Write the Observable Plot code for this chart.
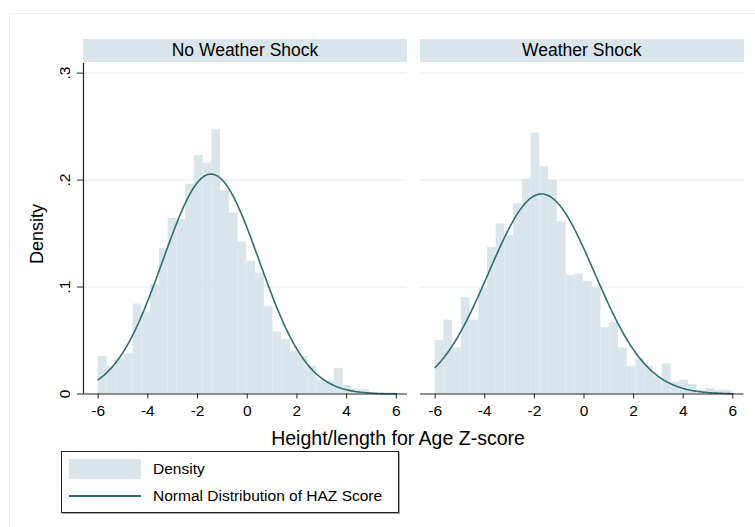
<!DOCTYPE html>
<html>
<head>
<meta charset="utf-8">
<script src="https://cdn.jsdelivr.net/npm/d3@7"></script>
<script src="https://cdn.jsdelivr.net/npm/@observablehq/plot@0.6"></script>
<style>
  html, body { margin: 0; padding: 0; background: #fff; }
  #chart { position: relative; width: 755px; height: 527px; overflow: hidden; background: #fff;
           font-family: "Liberation Sans", Arial, Helvetica, sans-serif; color: #000; }
  #chart svg text { font-size: 15.5px !important; font-family: "Liberation Sans", Arial, Helvetica, sans-serif !important; }
  .abs { position: absolute; }
  .strip { background: #d9e5ea; text-align: center; font-size: 17.5px; line-height: 23.5px; height: 23.5px; top: 38.5px; }
</style>
</head>
<body>
<div id="chart"></div>
<script>
// ---- data ----
const panels = ["No Weather Shock", "Weather Shock"];
const binStart = -6;
const binWidth = 0.352;
const densityNoShock = [0.035, 0.026, 0.033, 0.0375, 0.084, 0.076, 0.102, 0.136, 0.164, 0.163,
  0.196, 0.223, 0.216, 0.247, 0.190, 0.169, 0.142, 0.124, 0.113, 0.082,
  0.058, 0.051, 0.040, 0.035, 0.026, 0.013, 0.012, 0.024, 0.008, 0.004,
  0.004, 0, 0, 0.001];
const densityShock = [0.050, 0.069, 0.043, 0.090, 0.069, 0.099, 0.137, 0.159, 0.148, 0.178,
  0.201, 0.244, 0.2125, 0.200, 0.161, 0.111, 0.112, 0.105, 0.099, 0.062,
  0.067, 0.043, 0.026, 0.033, 0.026, 0.016, 0.028, 0.011, 0.013, 0.009,
  0.003, 0.005, 0.0034, 0.0034];
const normalMean = [-1.46, -1.71];
const normalSD = [1.94, 2.133];
const xTicks = [-6, -4, -2, 0, 2, 4, 6];
const yTicks = [0, 0.1, 0.2, 0.3];
const yTickLabels = ["0", ".1", ".2", ".3"];
const xTitle = "Height/length for Age Z-score";
const yTitle = "Density";
const legendLabels = ["Density", "Normal Distribution of HAZ Score"];

// ---- styling ----
const barFill = "#d9e5ea";
const lineColor = "#2f6f6c";
const gridColor = "#e6eef1";
const axisColor = "#222";
const xDomain = [-6.59, 6.45];
const yDomain = [0, 0.309];

function normalPdf(x, m, s) {
  return Math.exp(-0.5 * ((x - m) / s) ** 2) / (s * Math.sqrt(2 * Math.PI));
}

function panelPlot(dens, idx, showY) {
  const bins = dens.map((d, i) => ({x1: binStart + i * binWidth, x2: binStart + (i + 1) * binWidth, y: d}));
  const curve = d3.range(0, 241).map(i => {
    const x = -6 + i * 0.05;
    return {x, y: normalPdf(x, normalMean[idx], normalSD[idx])};
  });
  const marks = [
    Plot.gridY(yTicks.slice(1), {stroke: gridColor, strokeOpacity: 1, strokeWidth: 1.2}),
    Plot.rectY(bins.filter(b => b.y > 0), {x1: "x1", x2: "x2", y: "y", fill: barFill, inset: 0}),
    Plot.line(curve, {x: "x", y: "y", stroke: lineColor, strokeWidth: 1.6}),
    Plot.ruleY([0], {stroke: axisColor, strokeWidth: 1.2}),
    Plot.axisX({ticks: xTicks, tickFormat: d => String(d), tickSize: 5, tickPadding: 6,
      fontSize: 15.5, label: null, stroke: axisColor, fill: "#000"})
  ];
  if (showY) {
    marks.push(
      Plot.ruleX([xDomain[0]], {stroke: axisColor, strokeWidth: 1.2}),
      Plot.axisY({ticks: yTicks, tickFormat: () => "", tickSize: 6, label: null, stroke: axisColor}),
      Plot.text(yTicks, {y: d => d, text: (d, i) => yTickLabels[i], frameAnchor: "left", dx: -18,
        rotate: -90, textAnchor: "middle", lineAnchor: "middle", fontSize: 15.5, fill: "#000"})
    );
  }
  return Plot.plot({
    width: showY ? 410 : 345,
    height: 360,
    marginLeft: showY ? 83 : 10,
    marginRight: showY ? 3 : 11.5,
    marginTop: 1,
    marginBottom: 28.5,
    x: {domain: xDomain},
    y: {domain: yDomain, axis: null},
    style: {fontFamily: '"Liberation Sans", Arial, Helvetica, sans-serif', fontSize: "15.5px", color: "#000", background: "transparent", overflow: "visible"},
    marks
  });
}

const chart = document.getElementById("chart");

// faint outer border
const outer = document.createElement("div");
outer.className = "abs";
Object.assign(outer.style, {left: "9px", top: "13px", width: "800px", height: "600px", border: "1px solid #ececec"});
chart.appendChild(outer);

// strips
[[83, 324], [420, 323.5]].forEach(([l, w], i) => {
  const s = document.createElement("div");
  s.className = "abs strip";
  s.style.left = l + "px";
  s.style.width = w + "px";
  s.textContent = panels[i];
  chart.appendChild(s);
});

// panels
const p1 = panelPlot(densityNoShock, 0, true);
p1.style.position = "absolute"; p1.style.left = "0px"; p1.style.top = "62px";
chart.appendChild(p1);
const p2 = panelPlot(densityShock, 1, false);
p2.style.position = "absolute"; p2.style.left = "410px"; p2.style.top = "62px";
chart.appendChild(p2);

// y title
const yt = document.createElement("div");
yt.className = "abs";
yt.textContent = yTitle;
Object.assign(yt.style, {left: "37px", top: "234px", fontSize: "18px", whiteSpace: "nowrap",
  transform: "translate(-50%, -50%) rotate(-90deg)"});
chart.appendChild(yt);

// x title
const xt = document.createElement("div");
xt.className = "abs";
xt.textContent = xTitle;
Object.assign(xt.style, {left: "398px", top: "438px", fontSize: "19.5px", whiteSpace: "nowrap",
  transform: "translate(-50%, -50%)"});
chart.appendChild(xt);

// legend
const lg = document.createElement("div");
lg.className = "abs";
Object.assign(lg.style, {left: "61px", top: "451px", width: "338px", height: "62px", boxSizing: "border-box",
  border: "1.3px solid #222", boxShadow: "1px 1px 0 #aaa", background: "#fff"});
chart.appendChild(lg);
const sw = document.createElement("div");
sw.className = "abs";
Object.assign(sw.style, {left: "69px", top: "459px", width: "72px", height: "20px", background: barFill});
chart.appendChild(sw);
const ln = document.createElement("div");
ln.className = "abs";
Object.assign(ln.style, {left: "69px", top: "495px", width: "72px", height: "2px", background: lineColor});
chart.appendChild(ln);
legendLabels.forEach((t, i) => {
  const d = document.createElement("div");
  d.className = "abs";
  d.textContent = t;
  Object.assign(d.style, {left: "153px", top: (i === 0 ? 469 : 496) + "px", fontSize: "15.5px", whiteSpace: "nowrap",
    transform: "translateY(-50%)"});
  chart.appendChild(d);
});
</script>
</body>
</html>
